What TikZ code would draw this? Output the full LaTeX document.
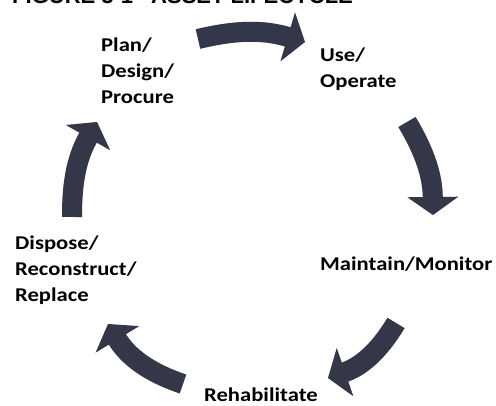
\documentclass[tikz,border=0pt]{standalone}
\usepackage{fontspec}
\setmainfont{Carlito}[FakeStretch=1.16]
\newfontfamily\titlefont{Liberation Sans}
\usetikzlibrary{arrows.meta,positioning}
\definecolor{arrowblue}{HTML}{333748}

\begin{document}
\begin{tikzpicture}[x=1pt,y=-1pt,
	stage/.style={align=left, font=\fontsize{19.5}{26}\selectfont\bfseries, inner sep=0pt, anchor=base west},
	cyclearrow/.style={line width=20pt, arrowblue, -{Triangle[length=18pt,width=50pt]}},
	cycleshade/.style={line width=20pt, black!18, -{Triangle[length=18pt,width=50pt]}}]
	\useasboundingbox (0,0) rectangle (496,406);
	\clip (0,0) rectangle (496,406);

	% title, cut off at the top
	\node[anchor=base west, inner sep=0pt, font=\titlefont\bfseries\fontsize{22}{24}\selectfont] (title) at (12,3.5) {FIGURE 3-1\hspace{18pt}ASSET LIFECYCLE};

	% stages (base = last line)
	\node[stage] (plan) at (101,104) {Plan/\\Design/\\Procure};
	\node[stage] (use) at (320,88) {Use/\\Operate};
	\node[stage] (maintain) at (320,271) {Maintain/Monitor};
	\node[stage] (rehab) at (204,401.5) {Rehabilitate};
	\node[stage] (dispose) at (15,302) {Dispose/\\Reconstruct/\\Replace};

	% arrow ends
	\coordinate (a1) at (198,39);  \coordinate (b1) at (305,42);
	\coordinate (a2) at (407,122); \coordinate (b2) at (433,215);
	\coordinate (a3) at (396,323); \coordinate (b3) at (328,378);
	\coordinate (a4) at (183,384); \coordinate (b4) at (108,324);
	\coordinate (a5) at (72,217);  \coordinate (b5) at (97,122);

	\begin{scope}[shift={(1.5,2.5)}]
		\draw[cycleshade] (a1) to[bend left=15] (b1);
		\draw[cycleshade] (a2) to[bend left=15] (b2);
		\draw[cycleshade] (a3) to[bend left=20] (b3);
		\draw[cycleshade] (a4) to[bend left=20] (b4);
		\draw[cycleshade] (a5) to[bend left=15] (b5);
	\end{scope}
	\draw[cyclearrow] (a1) to[bend left=15] (b1);
	\draw[cyclearrow] (a2) to[bend left=15] (b2);
	\draw[cyclearrow] (a3) to[bend left=20] (b3);
	\draw[cyclearrow] (a4) to[bend left=20] (b4);
	\draw[cyclearrow] (a5) to[bend left=15] (b5);
\end{tikzpicture}
\end{document}
